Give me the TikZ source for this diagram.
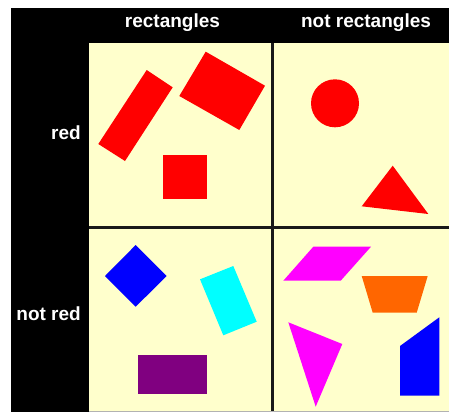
\documentclass[tikz,border=0pt]{standalone}
\usepackage{fontspec}
\setmainfont{Liberation Sans}
\definecolor{PanelYellow}{RGB}{255,255,204}
\definecolor{ShapeOrange}{RGB}{255,102,0}
\definecolor{ShapePurple}{RGB}{128,0,128}
\definecolor{ShapeCyan}{RGB}{0,255,255}
\definecolor{ShapeMagenta}{RGB}{255,0,255}
\definecolor{ShapeRed}{RGB}{255,0,0}
\definecolor{ShapeBlue}{RGB}{0,0,255}

\begin{document}
\begin{tikzpicture}[
    x=1pt, y=-1pt,
    font=\bfseries\fontsize{19}{22}\selectfont,
    header/.style={text=white, anchor=base, inner sep=0pt},
    rowlabel/.style={text=white, anchor=base east, inner sep=0pt},
    divider/.style={line width=3pt, draw=black!90},
]

\useasboundingbox (0,0) rectangle (449,412);

% Frame and panel
\fill[black] (11,8) rectangle (449,412);
\fill[PanelYellow] (89,43) rectangle (449,411);
\draw[gray!60, line width=1pt] (89,411.5) -- (449,411.5);
\draw[divider] (272.5,43) -- (272.5,411);
\draw[divider] (89,227) -- (449,227);

% Column and row labels
\foreach \x/\txt [count=\i] in {172.5/rectangles, 366/not rectangles}{
    \node[header] (col\i) at (\x,28) {\txt};
}
\node[rowlabel] (row1) at (81,139) {red};
\node[rowlabel] (row2) at (81,320) {not red};

% Red rectangles
\fill[ShapeRed] (146.7,70) -- (172.7,87.3) -- (125,161) -- (98.3,144) -- cycle;
\fill[ShapeRed] (205.7,51.7) -- (265,85.7) -- (239.3,130) -- (179.3,96) -- cycle;
\fill[ShapeRed] (162.7,155) rectangle (207.3,199.3);

% Red, not rectangles
\fill[ShapeRed] (335,103.3) circle[radius=24];
\fill[ShapeRed] (392.7,165.7) -- (428.3,214) -- (361.7,206.3) -- cycle;

% Rectangles, not red
\fill[ShapeBlue] (135.7,245) -- (166.7,276) -- (135.7,306.7) -- (105,276) -- cycle;
\fill[ShapeCyan] (200,279.3) -- (233.3,266) -- (256.7,321.7) -- (223.3,335.3) -- cycle;
\fill[ShapePurple] (138.3,355) rectangle (207.3,394);

% Neither
\fill[ShapeMagenta] (313.3,246.7) -- (371,246.7) -- (340.7,280.7) -- (283.3,280.7) -- cycle;
\fill[ShapeOrange] (361.7,276) -- (427.7,276) -- (416.7,312.7) -- (372.7,312.7) -- cycle;
\fill[ShapeMagenta] (288.3,322.3) -- (342.3,344) -- (315.7,406.7) -- cycle;
\fill[ShapeBlue] (400,346) -- (439.3,317.3) -- (439.3,395.7) -- (400,395.7) -- cycle;

\end{tikzpicture}
\end{document}
